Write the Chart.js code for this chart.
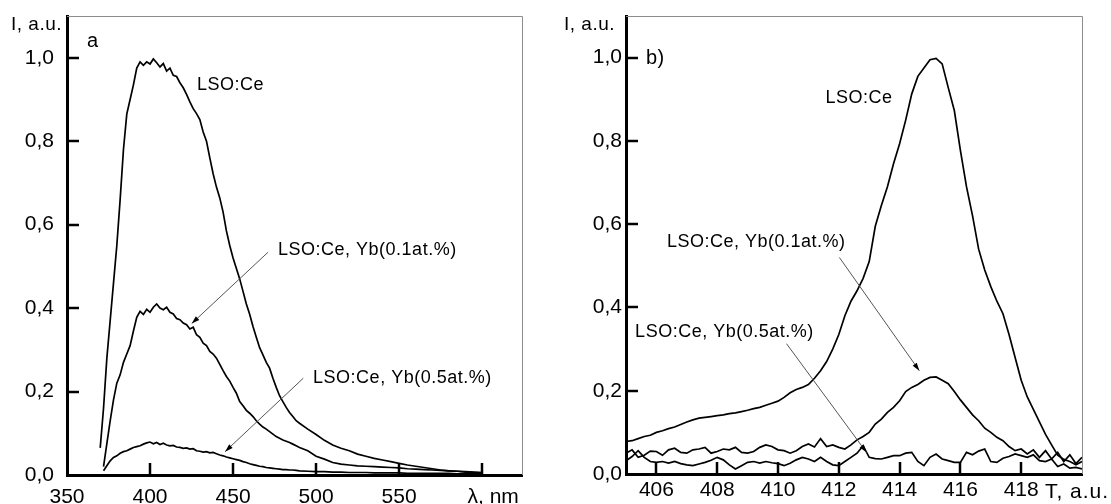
<!DOCTYPE html>
<html>
<head>
<meta charset="utf-8">
<script src="https://cdn.jsdelivr.net/npm/chart.js@4.4.1/dist/chart.umd.min.js"></script>
<style>
  body { margin: 0; background: #fff; }
  #wrap { display: flex; width: 1111px; height: 504px; }
  canvas { display: block; }
</style>
</head>
<body>
<div id="wrap">
  <canvas id="chartA" width="555" height="504"></canvas>
  <canvas id="chartB" width="556" height="504"></canvas>
</div>
<script>

// ---- panel a: spectra vs wavelength, nm
var wlA = [
	370, 372, 374, 376, 378, 380, 382, 384, 386, 388,
	390, 392, 394, 396, 398, 400, 402, 404, 406, 408,
	410, 412, 414, 416, 418, 420, 422, 424, 426, 428,
	430, 432, 434, 436, 438, 440, 442, 444, 446, 448,
	450, 452, 454, 456, 458, 460, 462, 464, 466, 468,
	470, 472, 474, 476, 478, 480, 482, 484, 486, 488,
	490, 495, 500, 505, 510, 515, 520, 525, 530, 535,
	540, 545, 550, 555, 560, 565, 570, 575, 580, 585,
	590, 595, 600
];
var lsoA = [
	0.065, 0.16, 0.28, 0.37, 0.46, 0.55, 0.66, 0.78, 0.865, 0.9,
	0.935, 0.975, 0.99, 0.982, 0.99, 0.985, 0.997, 0.988, 0.978, 0.986,
	0.968, 0.975, 0.958, 0.955, 0.94, 0.928, 0.912, 0.894, 0.878, 0.866,
	0.852, 0.822, 0.8, 0.76, 0.722, 0.69, 0.664, 0.63, 0.585, 0.55,
	0.52, 0.495, 0.47, 0.44, 0.41, 0.385, 0.356, 0.33, 0.305, 0.288,
	0.27, 0.256, 0.232, 0.21, 0.19, 0.176, 0.162, 0.15, 0.14, 0.13,
	0.124, 0.11, 0.097, 0.083, 0.072, 0.064, 0.058, 0.05, 0.045, 0.04,
	0.036, 0.032, 0.028, 0.024, 0.021, 0.018, 0.015, 0.012, 0.01, 0.009,
	0.007, 0.006, 0.005
];
var yb01A = [
	null, 0.02, 0.075, 0.13, 0.18, 0.22, 0.24, 0.27, 0.29, 0.31,
	0.345, 0.378, 0.392, 0.385, 0.397, 0.39, 0.402, 0.41, 0.4, 0.396,
	0.402, 0.39, 0.386, 0.375, 0.372, 0.364, 0.36, 0.35, 0.354, 0.336,
	0.33, 0.316, 0.31, 0.296, 0.29, 0.28, 0.265, 0.25, 0.236, 0.225,
	0.21, 0.196, 0.176, 0.166, 0.155, 0.148, 0.14, 0.13, 0.122, 0.115,
	0.11, 0.104, 0.098, 0.092, 0.088, 0.084, 0.081, 0.078, 0.074, 0.07,
	0.066, 0.058, 0.045, 0.038, 0.03, 0.026, 0.024, 0.022, 0.021, 0.02,
	0.019, 0.018, 0.017, 0.015, 0.014, 0.013, 0.012, 0.011, 0.01, 0.009,
	0.008, 0.007, 0.006
];
var yb05A = [
	null, 0.01, 0.022, 0.034, 0.042, 0.046, 0.052, 0.056, 0.058, 0.062,
	0.066, 0.068, 0.07, 0.074, 0.077, 0.079, 0.075, 0.078, 0.073, 0.076,
	0.072, 0.07, 0.071, 0.067, 0.066, 0.064, 0.065, 0.062, 0.063, 0.058,
	0.057, 0.055, 0.056, 0.053, 0.054, 0.051, 0.048, 0.046, 0.043, 0.041,
	0.039, 0.037, 0.035, 0.032, 0.03, 0.027, 0.025, 0.023, 0.021, 0.02,
	0.018, 0.017, 0.016, 0.015, 0.014, 0.013, 0.013, 0.012, 0.012, 0.011,
	0.01, 0.009, 0.008, 0.008, 0.007, 0.007, 0.006, 0.006, 0.006, 0.005,
	0.005, 0.005, 0.005, 0.004, 0.004, 0.004, 0.004, 0.004, 0.004, 0.003,
	0.003, 0.003, 0.003
];

// ---- panel b: glow curves vs T, a.u.
var tB = [
	405.0, 405.2, 405.4, 405.6, 405.8, 406.0, 406.2, 406.4, 406.6, 406.8,
	407.0, 407.2, 407.4, 407.6, 407.8, 408.0, 408.2, 408.4, 408.6, 408.8,
	409.0, 409.2, 409.4, 409.6, 409.8, 410.0, 410.2, 410.4, 410.6, 410.8,
	411.0, 411.2, 411.4, 411.6, 411.8, 412.0, 412.2, 412.4, 412.6, 412.8,
	413.0, 413.2, 413.4, 413.6, 413.8, 414.0, 414.2, 414.4, 414.6, 414.8,
	415.0, 415.2, 415.4, 415.6, 415.8, 416.0, 416.2, 416.4, 416.6, 416.8,
	417.0, 417.2, 417.4, 417.6, 417.8, 418.0, 418.2, 418.4, 418.6, 418.8,
	419.0, 419.2, 419.4, 419.6, 419.8, 420.0
];
var lsoB = [
	0.078, 0.08, 0.085, 0.09, 0.093, 0.1, 0.104, 0.109, 0.113, 0.119,
	0.125, 0.13, 0.134, 0.136, 0.138, 0.14, 0.142, 0.145, 0.147, 0.15,
	0.153, 0.157, 0.16, 0.165, 0.17, 0.175, 0.184, 0.195, 0.203, 0.208,
	0.215, 0.23, 0.248, 0.27, 0.3, 0.335, 0.38, 0.415, 0.44, 0.47,
	0.51, 0.595, 0.645, 0.69, 0.745, 0.793, 0.85, 0.913, 0.955, 0.975,
	0.995, 0.998, 0.985, 0.928, 0.873, 0.777, 0.69, 0.62, 0.54, 0.49,
	0.45, 0.415, 0.385, 0.335, 0.28, 0.225, 0.185, 0.155, 0.125, 0.095,
	0.07, 0.045, 0.035, 0.03, 0.022, 0.03
];
var yb01B = [
	0.05, 0.058, 0.04, 0.045, 0.055, 0.054, 0.045, 0.058, 0.062, 0.052,
	0.05, 0.058, 0.06, 0.064, 0.05, 0.054, 0.06, 0.058, 0.064, 0.052,
	0.05, 0.054, 0.064, 0.07, 0.066, 0.058, 0.056, 0.05, 0.056, 0.066,
	0.072, 0.065, 0.085, 0.066, 0.07, 0.064, 0.06, 0.07, 0.082, 0.09,
	0.1, 0.12, 0.132, 0.148, 0.16, 0.176, 0.198, 0.208, 0.215, 0.225,
	0.232, 0.233, 0.225, 0.217, 0.198, 0.178, 0.16, 0.142, 0.128, 0.11,
	0.1, 0.088, 0.08, 0.066, 0.056, 0.06, 0.048, 0.058, 0.04, 0.056,
	0.036, 0.052, 0.03, 0.046, 0.025, 0.04
];
var yb05B = [
	0.032, 0.042, 0.056, 0.04, 0.03, 0.028, 0.03, 0.026, 0.03, 0.025,
	0.022, 0.02, 0.024, 0.028, 0.033, 0.04, 0.034, 0.022, 0.012, 0.02,
	0.028, 0.03, 0.026, 0.03, 0.027, 0.025, 0.02, 0.026, 0.034, 0.04,
	0.036, 0.03, 0.04, 0.03, 0.022, 0.02, 0.03, 0.04, 0.05, 0.068,
	0.04, 0.037, 0.036, 0.04, 0.044, 0.044, 0.05, 0.052, 0.03, 0.02,
	0.04, 0.048, 0.036, 0.032, 0.028, 0.028, 0.052, 0.046, 0.055, 0.06,
	0.03, 0.028, 0.038, 0.042, 0.048, 0.044, 0.04, 0.046, 0.032, 0.03,
	0.036, 0.018, 0.024, 0.014, 0.016, 0.012
];

var yTicks = [0, 0.2, 0.4, 0.6, 0.8, 1.0];
var xTicksA = [350, 400, 450, 500, 550, 600];
var xTicksB = [406, 408, 410, 412, 414, 416, 418];

var FONT = "'Liberation Sans', Arial, sans-serif";

function pts(xs, ys){
	return xs.map(function(x, i){ return {x: x, y: ys[i]}; });
}

function commaNum(v){
	return Number(v).toFixed(1).replace('.', ',');
}

function arrow(ctx, x1, y1, x2, y2){
	ctx.beginPath();
	ctx.moveTo(x1, y1);
	ctx.lineTo(x2, y2);
	ctx.stroke();
	var ang = Math.atan2(y2 - y1, x2 - x1);
	var len = 8, wid = 2.5;
	ctx.beginPath();
	ctx.moveTo(x2, y2);
	ctx.lineTo(x2 - len*Math.cos(ang) + wid*Math.sin(ang), y2 - len*Math.sin(ang) - wid*Math.cos(ang));
	ctx.lineTo(x2 - len*Math.cos(ang) - wid*Math.sin(ang), y2 - len*Math.sin(ang) + wid*Math.cos(ang));
	ctx.closePath();
	ctx.fill();
}

// frame, inward tick marks, labels and arrows
var decor = {
	id: 'decor',
	afterDraw(chart, args, o){
		var ctx = chart.ctx, xs = chart.scales.x, ys = chart.scales.y, a = chart.chartArea;
		ctx.save();

		ctx.strokeStyle = '#8c8c8c';
		ctx.lineWidth = 1;
		ctx.beginPath();
		ctx.moveTo(a.left, a.top + 0.5);
		ctx.lineTo(a.right + 0.5, a.top + 0.5);
		ctx.lineTo(a.right + 0.5, a.bottom);
		ctx.stroke();

		ctx.strokeStyle = '#000';
		ctx.lineWidth = 2.5;
		xs.ticks.forEach(function(t){
			if (t.value === xs.min) return;
			var px = Math.round(xs.getPixelForValue(t.value));
			ctx.beginPath(); ctx.moveTo(px, a.bottom); ctx.lineTo(px, a.bottom - 12); ctx.stroke();
		});
		ys.ticks.forEach(function(t){
			if (t.value === ys.min) return;
			var py = Math.round(ys.getPixelForValue(t.value));
			ctx.beginPath(); ctx.moveTo(a.left, py); ctx.lineTo(a.left + 12, py); ctx.stroke();
		});

		ctx.fillStyle = '#000';
		ctx.strokeStyle = '#555';
		ctx.lineWidth = 1;
		o.notes.forEach(function(n){
			ctx.font = '18px ' + FONT;
			ctx.letterSpacing = '0.5px';
			ctx.textAlign = 'left';
			ctx.textBaseline = 'middle';
			ctx.fillText(n.text, xs.getPixelForValue(n.x), ys.getPixelForValue(n.y));
			if (n.from){
				arrow(ctx, xs.getPixelForValue(n.from[0]), ys.getPixelForValue(n.from[1]),
					xs.getPixelForValue(n.to[0]), ys.getPixelForValue(n.to[1]));
			}
		});

		ctx.letterSpacing = '0.5px';
		ctx.textBaseline = 'middle';
		ctx.font = '19px ' + FONT;
		ctx.textAlign = 'right';
		ctx.fillText('I, a.u.', a.left + o.yTitle.dx, a.top + o.yTitle.dy);

		ctx.font = '20px ' + FONT;
		ctx.textAlign = 'left';
		ctx.textBaseline = 'alphabetic';
		ctx.fillText(o.panel.text, a.left + o.panel.dx, a.top + o.panel.dy);

		ctx.font = '21px ' + FONT;
		ctx.letterSpacing = o.xTitle.spacing;
		ctx.textAlign = 'center';
		ctx.textBaseline = 'middle';
		ctx.fillText(o.xTitle.text, xs.getPixelForValue(o.xTitle.at) + o.xTitle.dx, a.bottom + o.xTitle.dy);

		ctx.restore();
	}
};

function makeChart(id, c){
	var ctx = document.getElementById(id).getContext('2d');
	return new Chart(ctx, {
		type: 'line',
		data: {
			datasets: c.series.map(function(s){
				return {
					label: s.label,
					data: s.data,
					borderColor: '#000',
					borderWidth: 1.7,
					pointRadius: 0,
					tension: 0,
					fill: false
				};
			})
		},
		options: {
			responsive: false,
			animation: false,
			events: [],
			layout: { padding: { top: 16, right: c.padRight, left: 0, bottom: 0 } },
			plugins: {
				legend: { display: false },
				tooltip: { enabled: false },
				decor: c.decor
			},
			scales: {
				x: {
					type: 'linear',
					min: c.xMin,
					max: c.xMax,
					afterBuildTicks: function(s){ s.ticks = c.xTicks.map(function(v){ return {value: v}; }); },
					afterFit: function(s){
						s.height = c.xHeight;
						s.paddingLeft = 0; s.paddingRight = 0; s.paddingTop = 0; s.paddingBottom = 0;
					},
					grid: { display: false, drawTicks: false },
					border: { color: '#000', width: 3 },
					ticks: {
						color: '#000',
						font: { family: FONT, size: 21 },
						padding: c.xPad,
						maxRotation: 0,
						autoSkip: false,
						callback: function(v){ return c.hideX.indexOf(v) >= 0 ? '' : String(v); }
					}
				},
				y: {
					min: 0,
					max: 1.1,
					afterBuildTicks: function(s){ s.ticks = yTicks.map(function(v){ return {value: v}; }); },
					afterFit: function(s){
						s.width = c.yWidth;
						s.paddingLeft = 0; s.paddingRight = 0; s.paddingTop = 0; s.paddingBottom = 0;
					},
					grid: { display: false, drawTicks: false },
					border: { color: '#000', width: 3 },
					ticks: {
						color: '#000',
						font: { family: FONT, size: 21 },
						padding: c.yPad,
						callback: commaNum
					}
				}
			}
		},
		plugins: [decor]
	});
}

makeChart('chartA', {
	series: [
		{ label: 'LSO:Ce', data: pts(wlA, lsoA) },
		{ label: 'LSO:Ce, Yb(0.1at.%)', data: pts(wlA, yb01A) },
		{ label: 'LSO:Ce, Yb(0.5at.%)', data: pts(wlA, yb05A) }
	],
	xMin: 350, xMax: 624, xTicks: xTicksA, hideX: [600],
	padRight: 33, xHeight: 29, yWidth: 67, xPad: 10, yPad: 13,
	decor: {
		notes: [
			{ text: 'LSO:Ce', x: 428.3, y: 0.934 },
			{ text: 'LSO:Ce, Yb(0.1at.%)', x: 477.1, y: 0.539, from: [471.1, 0.534], to: [425.1, 0.363] },
			{ text: 'LSO:Ce, Yb(0.5at.%)', x: 498.2, y: 0.232, from: [492.3, 0.232], to: [445.2, 0.056] }
		],
		yTitle: { dx: -5, dy: 9 },
		panel: { text: 'a', dx: 20, dy: 31 },
		xTitle: { text: '\u03bb, nm', at: 600, dx: 11, dy: 22, spacing: '0px' }
	}
});

makeChart('chartB', {
	series: [
		{ label: 'LSO:Ce', data: pts(tB, lsoB) },
		{ label: 'LSO:Ce, Yb(0.1at.%)', data: pts(tB, yb01B) },
		{ label: 'LSO:Ce, Yb(0.5at.%)', data: pts(tB, yb05B) }
	],
	xMin: 405, xMax: 420, xTicks: xTicksB, hideX: [],
	padRight: 29, xHeight: 30, yWidth: 71, xPad: 4, yPad: 4,
	decor: {
		notes: [
			{ text: 'LSO:Ce', x: 411.56, y: 0.904 },
			{ text: 'LSO:Ce, Yb(0.1at.%)', x: 406.35, y: 0.558, from: [412.02, 0.52], to: [414.65, 0.248] },
			{ text: 'LSO:Ce, Yb(0.5at.%)', x: 405.3, y: 0.341, from: [410.28, 0.313], to: [412.91, 0.052] }
		],
		yTitle: { dx: -11, dy: 9 },
		panel: { text: 'b)', dx: 20, dy: 48 },
		xTitle: { text: 'T, a.u.', at: 420, dx: -5, dy: 18, spacing: '1px' }
	}
});

</script>
</body>
</html>
